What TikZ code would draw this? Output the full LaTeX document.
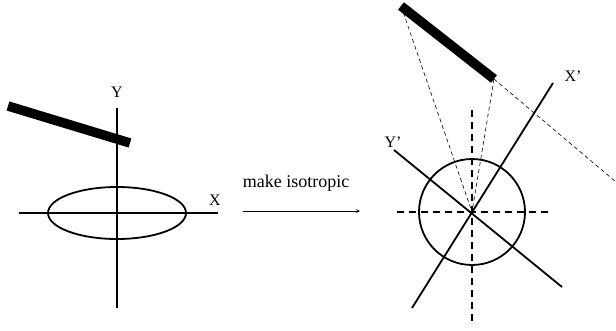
\documentclass[tikz,border=0pt]{standalone}
\usepackage{fontspec}
\setmainfont{Liberation Serif}
\usetikzlibrary{positioning}
\begin{document}
\begin{tikzpicture}[x=1pt,y=-1pt,>=stealth]
  \tikzstyle{axis}=[line width=1.8pt]
  \tikzstyle{bar}=[line width=9.5pt]
  \tikzstyle{guide}=[line width=1.8pt,dash pattern=on 7pt off 5pt]
  \tikzstyle{ray}=[line width=0.6pt,dash pattern=on 4pt off 3pt]
  \tikzstyle{axlabel}=[inner sep=0pt,font=\fontsize{16}{18}\selectfont]
  \useasboundingbox (0,0) rectangle (616,330);
  % left: anisotropic frame
  \coordinate (o) at (117,213);
  \coordinate (ytop) at (117,108);
  \coordinate (ybot) at (117,308);
  \coordinate (xl) at (19,213);
  \coordinate (xr) at (218,213);
  \coordinate (b1) at (8,106);
  \coordinate (b2) at (130,143);
  \draw[axis] (xl)--(xr);
  \draw[axis] (ytop)--(ybot);
  \draw[axis] (o) ellipse [x radius=69,y radius=26];
  \draw[bar] (b1)--(b2);
  \node[axlabel] (ylab) at (117,92) {Y};
  \node[axlabel] (xlab) at (215,200) {X};
  % transformation
  \coordinate (a1) at (243,211);
  \coordinate (a2) at (360,211);
  \draw[->,line width=0.7pt] (a1)--(a2);
  \node[inner sep=0pt,anchor=base,font=\fontsize{18}{20}\selectfont] (mk) at (296,187) {make isotropic};
  % right: isotropic frame
  \coordinate (c) at (472,212);
  \coordinate (hl) at (397,212);
  \coordinate (hr) at (550,212);
  \coordinate (vt) at (472,110);
  \coordinate (vb) at (472,322);
  \coordinate (xp1) at (412,308);
  \coordinate (xp2) at (553,83);
  \coordinate (yp1) at (394,150);
  \coordinate (yp2) at (562,287);
  \coordinate (r1) at (401,6);
  \coordinate (r2) at (494,79);
  \coordinate (far) at (616,182);
  \draw[ray] (r1)--(c);
  \draw[ray] (r2)--(c);
  \draw[ray] (r2)--(far);
  \draw[guide] (hl)--(hr);
  \draw[guide] (vt)--(vb);
  \draw[axis] (c) circle [radius=53];
  \draw[axis] (xp1)--(xp2);
  \draw[axis] (yp1)--(yp2);
  \draw[bar] (r1)--(r2);
  \node[axlabel] (xplab) at (573,76) {X'};
  \node[axlabel] (yplab) at (393,142) {Y'};
\end{tikzpicture}
\end{document}
